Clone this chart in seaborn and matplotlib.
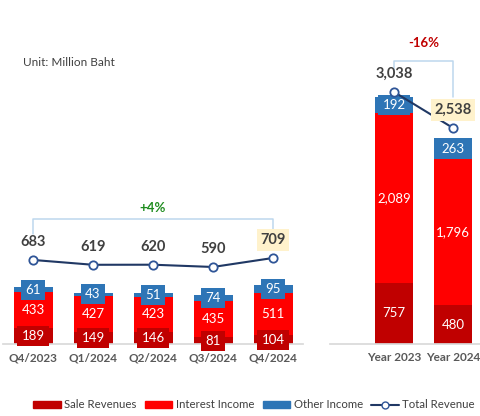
import numpy as np
import seaborn as sns
import matplotlib.pyplot as plt
from matplotlib.patches import Patch
from matplotlib.lines import Line2D

# ---------------- data ----------------
quarters = ["Q4/2023", "Q1/2024", "Q2/2024", "Q3/2024", "Q4/2024"]
q_sale = [189, 149, 146, 81, 104]
q_interest = [433, 427, 423, 435, 511]
q_other = [61, 43, 51, 74, 95]
q_total = [683, 619, 620, 590, 709]
q_change = "+4%"

years = ["Year 2023", "Year 2024"]
y_sale = [757, 480]
y_interest = [2089, 1796]
y_other = [192, 263]
y_total = [3038, 2538]
y_change = "-16%"

SALE_C = "#C00000"
INT_C = "#FF0000"
OTH_C = "#2E75B6"
LINE_C = "#203864"
MARK_C = "#2F5597"
BRACKET_C = "#BDD7EE"
TXT_C = "#404040"

sns.set_theme(style="white")
plt.rcParams["font.family"] = ["Lato", "DejaVu Sans"]

W, H = 481, 416
fig = plt.figure(figsize=(W / 100, H / 100), dpi=100)

AX_H = 344  # pixel height of both panels (baseline at y=344)


def draw_panel(rect, cats, sale, interest, other, total, bar_top, line_lim,
               xlim, width, bracket, change, change_color):
    ax = fig.add_axes(rect)
    lower = np.array(sale)
    middle = lower + np.array(interest)
    full = middle + np.array(other)
    px_per_unit = AX_H / bar_top

    # stacked bars: draw the tallest first
    for vals, col in [(full, OTH_C), (middle, INT_C), (lower, SALE_C)]:
        sns.barplot(x=cats, y=vals, color=col, saturation=1, width=width,
                    linewidth=0, edgecolor="none", ax=ax)

    # segment labels; small segments get a box in the segment colour
    for i in range(len(cats)):
        for val, base, col in [(sale[i], 0, SALE_C),
                               (interest[i], lower[i], INT_C),
                               (other[i], middle[i], OTH_C)]:
            box = None
            if val * px_per_unit < 22:
                box = dict(boxstyle="square,pad=0.3", fc=col, ec="none")
            ax.text(i, base + val / 2, f"{val:,}", ha="center", va="center",
                    color="white", fontsize=9.5, bbox=box)

    ax.set_ylim(0, bar_top)
    ax.set_yticks([])
    ax.set_xlabel("")
    ax.set_ylabel("")
    for s in ["top", "left", "right"]:
        ax.spines[s].set_visible(False)
    ax.spines["bottom"].set_color("#D9D9D9")
    ax.tick_params(axis="x", length=0, labelsize=8.5, labelcolor="#595959", pad=6)
    plt.setp(ax.get_xticklabels(), fontweight="bold")

    # total revenue line on its own scale
    ax2 = ax.twinx()
    sns.lineplot(x=np.arange(len(cats)), y=total, ax=ax2, color=LINE_C,
                 linewidth=1.5, marker="o", markersize=6,
                 markerfacecolor="white", markeredgecolor=MARK_C,
                 markeredgewidth=1.3)
    ax2.set_ylim(*line_lim)
    ax2.set_axis_off()
    ax.set_xlim(*xlim)

    for i, v in enumerate(total):
        box = None
        if i == len(total) - 1:
            box = dict(boxstyle="square,pad=0.25", fc="#FFF2CC", ec="none")
        ax2.annotate(f"{v:,}", (i, v), xytext=(0, 18), textcoords="offset pixels",
                     ha="center", va="center", fontsize=10.5, fontweight="bold",
                     color=TXT_C, bbox=box)

    # change bracket
    upp = (line_lim[1] - line_lim[0]) / AX_H
    left_bot, top, right_bot, txt = bracket
    n = len(total) - 1
    ax2.plot([0, 0, n, n],
             [total[0] + left_bot * upp, max(total) + top * upp,
              max(total) + top * upp, total[-1] + right_bot * upp],
             color=BRACKET_C, lw=1.1)
    ax2.text(n / 2, max(total) + txt * upp, change, ha="center", va="center",
             fontsize=9.5, fontweight="bold", color=change_color)
    return ax


bottom = (H - AX_H) / H
draw_panel([3 / W, bottom, 300 / W, AX_H / H], quarters, q_sale, q_interest,
           q_other, q_total, AX_H / 0.083, (-429, 4122), (-0.5, 4.5), 0.65,
           (26, 39, 25, 50), q_change, "#1E8C1E")
draw_panel([330 / W, bottom, 151 / W, AX_H / H], years, y_sale, y_interest,
           y_other, y_total, AX_H / 0.0812, (-462, 4315), (-1.085, 1.475), 0.66,
           (22, 31, 31, 49), y_change, "#C00000")

fig.text(23 / W, 1 - 63 / H, "Unit: Million Baht", fontsize=8.5, color=TXT_C,
         va="center")

handles = [
    Patch(color=SALE_C, label="Sale Revenues"),
    Patch(color=INT_C, label="Interest Income"),
    Patch(color=OTH_C, label="Other Income"),
    Line2D([], [], color=LINE_C, marker="o", markerfacecolor="white",
           markeredgecolor=MARK_C, markersize=5, label="Total Revenue"),
]
fig.legend(handles=handles, loc="center", bbox_to_anchor=(254 / W, 1 - 405 / H),
           ncol=4, frameon=False, fontsize=8.2, handlelength=2.4,
           handleheight=0.6, columnspacing=0.75, handletextpad=0.3,
           labelcolor="#404040", borderaxespad=0, borderpad=0)

fig.savefig("out.png", dpi=100)
